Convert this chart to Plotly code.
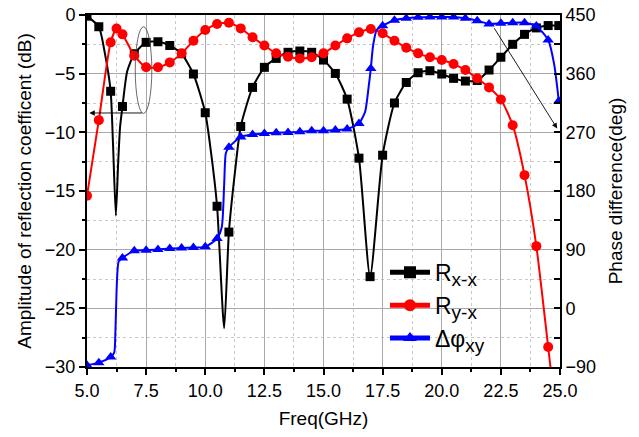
import plotly.graph_objects as go

# ---- data ----
# R_x-x (dB)
rxx_freq = [5.0, 5.5, 5.75, 6.0, 6.1, 6.22, 6.32, 6.4, 6.5, 6.7, 7.0, 7.5, 8.0, 8.5, 9.0, 9.5, 10.0,
            10.25, 10.5, 10.8, 11.0, 11.25, 11.5, 12.0, 12.5, 13.0, 13.5, 14.0, 14.5, 15.0, 15.5,
            16.0, 16.5, 16.97, 17.5, 18.0, 18.5, 19.0, 19.5, 20.0, 20.5, 21.0, 21.5, 22.0, 22.5,
            23.0, 23.5, 24.0, 24.5, 24.95]
rxx_db = [-0.1, -1.0, -3.2, -6.5, -11.0, -17.1, -12.5, -9.5, -7.8, -4.8, -3.3, -2.33, -2.28, -2.6,
          -3.3, -5.03, -8.33, -11.8, -16.3, -26.7, -18.5, -13.5, -9.5, -6.17, -4.46, -3.7, -3.18,
          -3.07, -3.18, -3.84, -4.98, -7.17, -12.2, -22.3, -11.95, -7.5, -5.75, -4.92, -4.75,
          -5.03, -5.4, -5.63, -5.58, -4.69, -3.6, -2.5, -1.65, -1.1, -0.9, -0.9]
rxx_mark = [1, 1, 0, 1, 0, 0, 0, 0, 1, 0, 1, 1, 1, 1, 1, 1, 1, 0, 1, 0, 1, 0, 1, 1, 1, 1, 1, 1, 1,
            1, 1, 1, 1, 1, 1, 1, 1, 1, 1, 1, 1, 1, 1, 1, 1, 1, 1, 1, 1, 1]

# R_y-x (dB)
ryx_freq = [5.0, 5.5, 6.0, 6.25, 6.5, 7.0, 7.5, 8.0, 8.5, 9.0, 9.5, 10.0, 10.5, 11.0, 11.5, 12.0,
            12.5, 13.0, 13.5, 14.0, 14.5, 15.0, 15.5, 16.0, 16.5, 17.0, 17.5, 18.0, 18.5, 19.0,
            19.5, 20.0, 20.5, 21.0, 21.5, 22.0, 22.5, 23.0, 23.5, 24.0, 24.5, 24.8]
ryx_db = [-15.4, -8.96, -2.33, -1.15, -1.65, -3.47, -4.46, -4.46, -4.04, -3.27, -2.19, -1.28,
          -0.77, -0.66, -1.14, -1.9, -2.6, -3.27, -3.55, -3.7, -3.6, -3.27, -2.6, -1.99, -1.48,
          -1.19, -1.56, -2.19, -2.79, -3.27, -3.6, -3.84, -4.18, -4.69, -5.4, -6.17, -7.2,
          -9.39, -13.65, -19.7, -28.3, -33.5]
ryx_mark = [1] * 41 + [0]

# Delta phi_xy (deg)
dphi_freq = [5.0, 5.5, 6.0, 6.15, 6.2, 6.27, 6.34, 6.5, 7.0, 7.5, 8.0, 8.5, 9.0, 9.5, 10.0, 10.5,
             10.7, 10.8, 10.87, 11.0, 11.5, 12.0, 12.5, 13.0, 13.5, 14.0, 14.5, 15.0, 15.5, 16.0,
             16.5, 16.76, 16.9, 17.0, 17.1, 17.25, 17.5, 18.0, 18.5, 19.0, 19.5, 20.0, 20.5, 21.0,
             21.5, 22.0, 22.5, 23.0, 23.5, 24.0, 24.5, 24.75, 24.95]
dphi_deg = [-87.4, -83.3, -74.6, -68, -36, 45, 72, 77.4, 88.2, 89.2, 90.2, 91.8, 92.7, 93.3, 94.3,
            107, 125, 190, 238, 247, 263, 266.8, 268.3, 269.3, 269.9, 270.8, 272.4, 272.4, 273.4,
            275, 283.7, 301.6, 337, 368, 404, 427, 433.6, 442, 444.9, 446.4, 447, 447, 447, 444.9,
            441.3, 436.2, 437.3, 438.2, 438.2, 433, 411.6, 375, 318]
dphi_mark = [1, 1, 1, 0, 0, 0, 0, 1, 1, 1, 1, 1, 1, 1, 1, 1, 0, 0, 0, 1, 1, 1, 1, 1, 1, 1, 1, 1, 1,
             1, 1, 0, 0, 1, 0, 0, 1, 1, 1, 1, 1, 1, 1, 1, 1, 1, 1, 1, 1, 1, 1, 0, 1]

SUB = '<sub><span style="font-size:19px">{}</span></sub>'
names = ["R" + SUB.format("x-x"), "R" + SUB.format("y-x"), "Δφ" + SUB.format("xy")]
x_ticks = [5.0, 7.5, 10.0, 12.5, 15.0, 17.5, 20.0, 22.5, 25.0]

FONT = "Liberation Sans, Arial, sans-serif"

fig = go.Figure()

def sizes(flags, s):
    return [s if f else 0 for f in flags]

fig.add_trace(go.Scatter(x=rxx_freq, y=rxx_db, name=names[0], mode="lines+markers",
                         line=dict(color="black", width=2, shape="spline", smoothing=0.6),
                         marker=dict(symbol="square", size=sizes(rxx_mark, 9), color="black",
                                     opacity=1, line=dict(width=0))))
fig.add_trace(go.Scatter(x=ryx_freq, y=ryx_db, name=names[1], mode="lines+markers",
                         line=dict(color="#ff0000", width=2, shape="spline", smoothing=0.6),
                         marker=dict(symbol="circle", size=sizes(ryx_mark, 10), color="#ff0000",
                                     opacity=1, line=dict(width=0))))
fig.add_trace(go.Scatter(x=dphi_freq, y=dphi_deg, name=names[2], mode="lines+markers", yaxis="y2",
                         line=dict(color="#0000ff", width=2, shape="spline", smoothing=0.6),
                         marker=dict(symbol="triangle-up", size=sizes(dphi_mark, 10), color="#0000ff",
                                     opacity=1, line=dict(width=0))))

# ellipse annotation
fig.add_shape(type="circle", xref="x", yref="y", x0=7.04, x1=7.74, y0=-8.39, y1=-1.0,
              line=dict(color="#444444", width=0.8))

fig.add_annotation(x=5.1, y=-8.35, ax=7.39, ay=-8.35, xref="x", yref="y", axref="x", ayref="y",
                   showarrow=True, arrowhead=2, arrowsize=1.2, arrowwidth=0.9, arrowcolor="black", text="")
fig.add_annotation(x=24.88, y=276, ax=22.18, ay=432, xref="x", yref="y2", axref="x", ayref="y2",
                   showarrow=True, arrowhead=2, arrowsize=1.2, arrowwidth=0.9, arrowcolor="black", text="")

axis_common = dict(showline=True, linecolor="black", linewidth=2, automargin=False,
                   tickfont=dict(family=FONT, size=18, color="black"),
                   zeroline=False)

fig.update_layout(
    width=639, height=437,
    margin=dict(l=87, r=79, t=15, b=70, autoexpand=False),
    paper_bgcolor="white", plot_bgcolor="white",
    font=dict(family=FONT, color="black"),
    xaxis=dict(range=[5, 25], tickvals=x_ticks, tickformat=".1f", ticks="outside", ticklen=6,
               tickwidth=1.5, tickcolor="black", mirror=True,
               showgrid=True, gridcolor="#a8a8a8", gridwidth=1,
               minor=dict(dtick=1.25, tick0=5, ticks="outside", ticklen=3, tickcolor="black",
                          showgrid=True, gridcolor="#c8c8c8", griddash="dot", gridwidth=1),
               title=dict(text="Freq(GHz)", font=dict(family=FONT, size=19), standoff=12),
               **axis_common),
    yaxis=dict(range=[-30, 0], dtick=5, ticks="outside", ticklen=6, tickwidth=1.5, tickcolor="black",
               showgrid=True, gridcolor="#a8a8a8", gridwidth=1,
               minor=dict(dtick=2.5, ticks="outside", ticklen=3, tickcolor="black",
                          showgrid=True, gridcolor="#c8c8c8", griddash="dot", gridwidth=1),
               title=dict(text="Amplitude of reflection coefficent (dB)", font=dict(family=FONT, size=19),
                          standoff=8),
               **axis_common),
    yaxis2=dict(range=[-90, 450], dtick=90, overlaying="y", side="right", ticks="inside", ticklen=6,
                tickwidth=1.5, tickcolor="black", showgrid=False,
                minor=dict(dtick=45, ticks="inside", ticklen=6, tickcolor="black", showgrid=False),
                title=dict(text="Phase difference(deg)", font=dict(family=FONT, size=19), standoff=14),
                **axis_common),
    legend=dict(x=0.63, y=0.33, xanchor="left", yanchor="top", bgcolor="rgba(0,0,0,0)",
                font=dict(family=FONT, size=23, color="black"), itemsizing="constant",
                itemwidth=40, tracegroupgap=0),
    showlegend=True,
)

fig.write_html("out.html", config={"displayModeBar": False},
               post_script="document.body.style.margin='0';")
